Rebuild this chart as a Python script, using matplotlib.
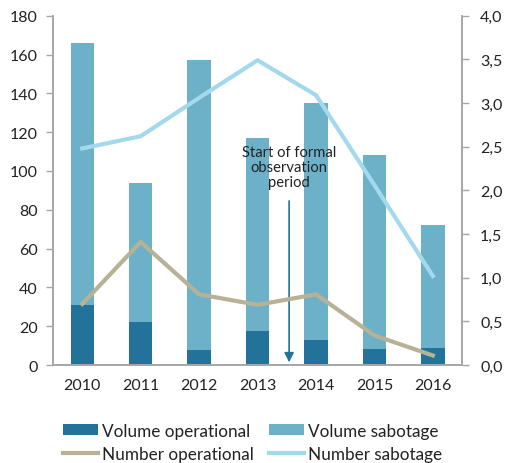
import matplotlib
matplotlib.use('Agg')
import matplotlib.pyplot as plt
import numpy as np

plt.rcParams['font.family'] = ['Lato', 'DejaVu Sans']

years = ['2010', '2011', '2012', '2013', '2014', '2015', '2016']
volume_operational = [31, 22, 8, 17.5, 13, 8.4, 8.8]
volume_total = [166, 94, 157, 117, 135, 108, 72]
volume_sabotage = [t - o for t, o in zip(volume_total, volume_operational)]
number_operational = [0.70, 1.41, 0.81, 0.69, 0.81, 0.34, 0.11]
number_sabotage = [2.48, 2.62, 3.06, 3.49, 3.09, 2.06, 1.02]

dark = '#22729a'
light = '#6cb1c8'
beige = '#b7b195'
sky = '#a3d9ec'
grey = '#a6a6a6'
text_col = '#222222'

fig = plt.figure(figsize=(5.05, 4.64), dpi=100)
ax = fig.add_axes([0.105, 0.211, 0.81, 0.753])
x = np.arange(len(years))

b1 = ax.bar(x, volume_operational, width=0.4, color=dark, label='Volume operational')
b2 = ax.bar(x, volume_sabotage, width=0.4, bottom=volume_operational, color=light, label='Volume sabotage')

ax.set_xlim(-0.5, len(years) - 0.5)
ax.set_ylim(0, 180)
ax.set_yticks(range(0, 181, 20))
ax.set_xticks(x)
ax.set_xticklabels(years)

ax2 = ax.twinx()
l1, = ax2.plot(x, number_operational, color=beige, lw=3.0, label='Number operational')
l2, = ax2.plot(x, number_sabotage, color=sky, lw=3.0, label='Number sabotage')
ax2.set_ylim(0, 4.0)
ax2.set_yticks(np.arange(0, 4.01, 0.5))
ax2.set_yticklabels([f'{v:.1f}'.replace('.', ',') for v in np.arange(0, 4.01, 0.5)])

for a in (ax, ax2):
    a.spines['top'].set_visible(False)
    for s in ('left', 'right', 'bottom'):
        a.spines[s].set_color(grey)
        a.spines[s].set_linewidth(1.2)
    a.tick_params(colors=grey, labelcolor=text_col, labelsize=11.5, length=5, width=1)
ax.tick_params(axis='x', length=0, pad=9)
ax.tick_params(axis='y', pad=6)
ax2.tick_params(axis='y', pad=8)

# arrow marking the start of the formal observation period
ax.annotate('', xy=(3.54, 0), xytext=(3.54, 86),
            arrowprops=dict(arrowstyle='-|>', color=dark, lw=1.2, mutation_scale=14))
ax.text(3.54, 102, 'Start of formal\nobservation\nperiod', ha='center', va='center',
        fontsize=10.6, color=text_col, linespacing=1.12)

fig.legend([b1, l1, b2, l2],
           ['Volume operational', 'Number operational', 'Volume sabotage', 'Number sabotage'],
           ncol=2, loc='center', bbox_to_anchor=(0.5, 0.045), frameon=False,
           fontsize=12.3, handlelength=2.05, handleheight=0.6, handletextpad=0.25,
           columnspacing=0.9, labelspacing=0.4, labelcolor=text_col)

plt.savefig('out.png', dpi=100)
plt.close()
